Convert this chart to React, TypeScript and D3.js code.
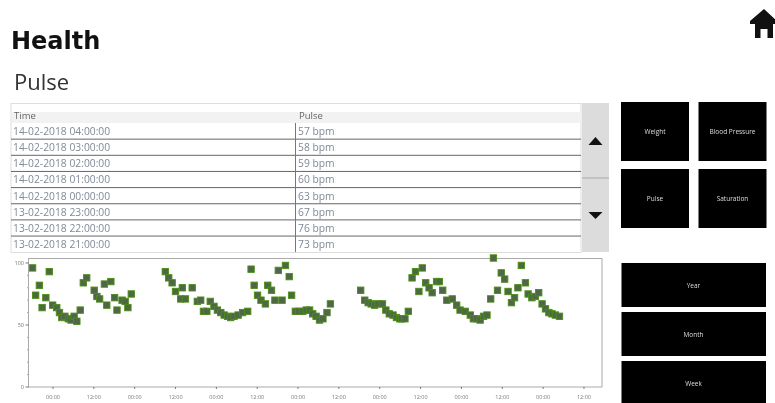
import React from "react";
import * as d3 from "d3";

const tableTimes = ["14-02-2018 04:00:00","14-02-2018 03:00:00","14-02-2018 02:00:00","14-02-2018 01:00:00","14-02-2018 00:00:00","13-02-2018 23:00:00","13-02-2018 22:00:00","13-02-2018 21:00:00"];
const tablePulses = ["57 bpm","58 bpm","59 bpm","60 bpm","63 bpm","67 bpm","76 bpm","73 bpm"];
const sideButtons = ["Weight","Blood Pressure","Pulse","Saturation"];
const rangeButtons = ["Year","Month","Week"];
const yTicks = [0, 50, 100];
const yMinorTicks = [10, 20, 30, 40, 60, 70, 80, 90];

// hours after 2018-02-08 00:00
const hourOffsets = [-6,-5.1,-4,-3.2,-2.1,-1.1,-0.1,1.1,1.9,2.6,3.5,4.5,5.3,6.2,7,8,8.9,9.9,12.1,12.9,13.7,15.1,15.8,17,18.1,18.8,20.3,21.2,22,23,
33,34,35,36,37.5,38,38.9,40.9,42.4,43.4,44.2,45.2,46.2,47.3,48.3,49.3,50.3,51.3,52.2,53.2,54.4,55.7,57.2,
58.2,59.1,60.1,61.1,62.4,63.1,64.2,65.2,66.2,67.3,68.3,69.4,70.1,71.2,72.2,73.4,74.4,75.4,76.3,77.3,78.3,79.3,80.5,81.5,
90.4,91.6,92.6,93.5,94.5,95.5,96.8,97.8,98.8,99.9,100.9,101.9,102.4,103.4,104.4,105.5,106.5,107.5,108.5,109.5,110.5,111.4,112.7,113.5,114.5,115.7,117.3,118.6,119.6,121.1,122.6,123.5,124.5,125.5,126.5,127.5,128.6,129.4,130.6,131.7,132.7,133.7,134.7,135.6,136.6,137.6,138.8,139.6,140.7,141.7,142.7,143.7,144.7,145.7,146.6,147.6,148.8];
const pulseValues = [96,74,82,64,72,93,66,64,60,56,57,55,54,57,53,62,84,88,78,73,71,83,66,85,72,62,70,69,64,75,
93,88,84,77,71,80,71,80,69,70,61,61,69,65,62,60,58,57,56,57,58,60,61,
95,82,74,70,67,82,78,70,94,70,98,89,74,61,61,61,62,62,59,57,54,55,60,67,
78,70,68,67,66,67,67,62,59,58,56,55,55,55,61,88,93,77,96,84,80,76,85,85,78,70,71,66,62,61,58,55,55,54,57,58,71,104,78,92,87,77,68,72,80,98,84,75,72,73,76,67,63,60,59,58,57];

const baseTime = Date.UTC(2018, 1, 8, 0);
const toDate = (h: number) => new Date(baseTime + h * 3600000);

const left = 28.5, right = 602, top = 258.5, bottom = 387;
const x = d3.scaleUtc().domain([toDate(-7.2), toDate(161.3)]).range([left, right]);
const y = d3.scaleLinear().domain([0, 103.6]).range([bottom, top]);
const xTicks = x.ticks(d3.utcHour.every(12)!);
const fmt = d3.utcFormat("%H:%M");

const uiFont = "'Open Sans', sans-serif";

export default function App() {
  const rowH = 16.15;
  const rowTop = 123;
  return (
    <svg width={775} height={403} viewBox="0 0 775 403"
      style={{ position: "absolute", left: 0, top: 0, filter: "blur(0.6px)" }}>
      <rect width={775} height={403} fill="#fff" />
      <text x={11} y={49} fontFamily="'DejaVu Sans'" fontWeight={700} fontSize={24} fill="#111">Health</text>
      <text x={14} y={90} fontFamily={uiFont} fontSize={22} fill="#333">Pulse</text>

      {/* home icon */}
      <path d="M764 9 L777 21 L777 24 L773 24 L773 38 L767.5 38 L767.5 29 L760.5 29 L760.5 38 L755 38 L755 24 L750 24 L750 21 Z" fill="#111" />

      {/* table */}
      <rect x={11} y={103.5} width={570} height={149} fill="#fff" stroke="#ddd" />
      <rect x={12} y={112} width={569} height={11} fill="#f2f2f2" />
      <text x={14} y={119} fontFamily={uiFont} fontSize={9.5} fill="#666">Time</text>
      <text x={299} y={119} fontFamily={uiFont} fontSize={9.5} fill="#666">Pulse</text>
      {tableTimes.map((t, i) => (
        <g key={t}>
          {i < 7 && <line x1={11} x2={581} y1={rowTop + (i + 1) * rowH} y2={rowTop + (i + 1) * rowH} stroke="#666" strokeWidth={1} />}
          <text x={13} y={rowTop + i * rowH + 12} fontFamily={uiFont} fontSize={10.3} fill="#7f8a96">{t}</text>
          <text x={298} y={rowTop + i * rowH + 12} fontFamily={uiFont} fontSize={10.3} fill="#7f8a96">{tablePulses[i]}</text>
        </g>
      ))}
      <line x1={295.5} x2={295.5} y1={123} y2={252} stroke="#777" />

      {/* scrollbar */}
      <rect x={582} y={103} width={27} height={149} fill="#dcdcdc" />
      <line x1={582} x2={609} y1={178} y2={178} stroke="#aaa" />
      <path d="M595.5 137 L602.5 145 L588.5 145 Z" fill="#111" />
      <path d="M595.5 219 L602.5 212 L588.5 212 Z" fill="#111" />

      {/* side buttons */}
      {sideButtons.map((b, i) => {
        const bx = i % 2 === 0 ? 621 : 698.5;
        const by = i < 2 ? 102 : 169;
        return (
          <g key={b}>
            <rect x={bx} y={by} width={68} height={59} fill="#000" />
            <text x={bx + 34} y={by + 32} textAnchor="middle" fontFamily={uiFont} fontSize={6.5} fill="#ddd">{b}</text>
          </g>
        );
      })}
      {rangeButtons.map((b, i) => {
        const by = 263 + i * 49;
        return (
          <g key={b}>
            <rect x={621.5} y={by} width={144.5} height={44} fill="#000" />
            <text x={693.5} y={by + 25} textAnchor="middle" fontFamily={uiFont} fontSize={6.5} fill="#ddd">{b}</text>
          </g>
        );
      })}

      {/* chart */}
      <rect x={left} y={top} width={right - left} height={bottom - top} fill="#fff" stroke="#aaa" strokeWidth={1} />
      {xTicks.map((t) => (
        <g key={+t}>
          <line x1={x(t)} x2={x(t)} y1={bottom} y2={bottom + 2} stroke="#777" />
          <text x={x(t)} y={398.5} textAnchor="middle" fontFamily={uiFont} fontSize={5.5} fill="#777">{fmt(t)}</text>
        </g>
      ))}
      {yMinorTicks.map((v) => (
        <line key={v} x1={left - 1.5} x2={left} y1={y(v)} y2={y(v)} stroke="#aaa" />
      ))}
      {yTicks.map((v) => (
        <g key={v}>
          <line x1={left - 3} x2={left} y1={y(v)} y2={y(v)} stroke="#777" />
          <text x={24} y={y(v) + 2} textAnchor="end" fontFamily={uiFont} fontSize={5.5} fill="#777">{v}</text>
        </g>
      ))}
      {hourOffsets.map((h, i) => (
        <rect key={i} x={x(toDate(h)) - 3.2} y={y(pulseValues[i]) - 3.2} width={6.4} height={6.4}
          fill="#4f6647" stroke="#4a8f14" strokeWidth={0.9} />
      ))}
    </svg>
  );
}
